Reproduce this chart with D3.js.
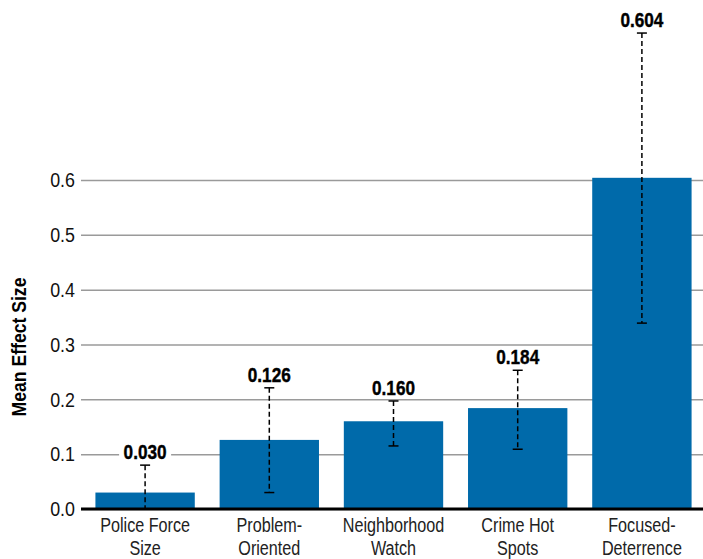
<!DOCTYPE html>
<html>
<head>
<meta charset="utf-8">
<script src="https://cdn.jsdelivr.net/npm/d3@7"></script>
<style>
  body { margin: 0; background: #fff; }
  text { font-family: "Liberation Sans", Arial, sans-serif; }
</style>
</head>
<body>
<div id="chart"></div>
<script>
const categories = [
  ["Police Force", "Size"],
  ["Problem-", "Oriented"],
  ["Neighborhood", "Watch"],
  ["Crime Hot", "Spots"],
  ["Focused-", "Deterrence"]
];
const means = [0.030, 0.126, 0.160, 0.184, 0.604];
const lower = [0.0, 0.030, 0.115, 0.109, 0.339];
const upper = [0.080, 0.221, 0.197, 0.253, 0.868];
const yTicks = [0, 0.1, 0.2, 0.3, 0.4, 0.5, 0.6];

const data = categories.map((c, i) => ({
  name: c.join(" "),
  lines: c,
  mean: means[i],
  lo: lower[i],
  hi: upper[i]
}));

const width = 703, height = 559;
const svg = d3.select("#chart").append("svg")
  .attr("width", width)
  .attr("height", height);

// y scale: 0 at the axis line, 0.6 at the top gridline
const y = d3.scaleLinear().domain([0, 0.6]).range([509, 180]);

const x = d3.scaleBand()
  .domain(data.map(d => d.name))
  .range([83, 704])
  .paddingInner(0.2)
  .paddingOuter(0.1);

// gridlines + tick labels (squeezed horizontally to mimic a condensed face)
const yAxis = svg.append("g")
  .attr("transform", "translate(81,0)")
  .call(d3.axisLeft(y).tickValues(yTicks).tickFormat(d3.format(".1f")).tickSize(-(width - 81)));
yAxis.select(".domain").remove();
yAxis.selectAll(".tick line").attr("stroke", "#9a9a9a").attr("stroke-width", 1.5);
yAxis.selectAll(".tick text")
  .attr("x", 0)
  .attr("transform", "translate(-6,0) scale(0.85,1)")
  .attr("font-size", "21px")
  .attr("fill", "#111")
  .style("font-family", "'Liberation Sans', Arial, sans-serif");

// bars
svg.append("g")
  .selectAll("rect")
  .data(data)
  .join("rect")
  .attr("x", d => x(d.name))
  .attr("y", d => y(d.mean))
  .attr("width", x.bandwidth())
  .attr("height", d => y(0) - y(d.mean))
  .attr("fill", "#006aaa");

// baseline
svg.append("line")
  .attr("x1", 81).attr("x2", width)
  .attr("y1", y(0)).attr("y2", y(0))
  .attr("stroke", "#000").attr("stroke-width", 3);

// error bars
const err = svg.append("g").attr("stroke", "#000").attr("stroke-width", 1.5);
const cx = d => x(d.name) + x.bandwidth() / 2;
err.selectAll("line.stem")
  .data(data)
  .join("line")
  .attr("class", "stem")
  .attr("x1", cx).attr("x2", cx)
  .attr("y1", d => y(d.hi)).attr("y2", d => y(d.lo))
  .attr("stroke-dasharray", "5,3");
err.selectAll("line.capHi")
  .data(data)
  .join("line")
  .attr("class", "capHi")
  .attr("x1", d => cx(d) - 5).attr("x2", d => cx(d) + 5)
  .attr("y1", d => y(d.hi)).attr("y2", d => y(d.hi));
err.selectAll("line.capLo")
  .data(data.filter(d => d.lo > 0))
  .join("line")
  .attr("class", "capLo")
  .attr("x1", d => cx(d) - 5).attr("x2", d => cx(d) + 5)
  .attr("y1", d => y(d.lo)).attr("y2", d => y(d.lo));

// value labels with white knockout behind
const labels = svg.append("g")
  .selectAll("g")
  .data(data)
  .join("g")
  .attr("transform", d => `translate(${cx(d)}, ${y(d.hi) - 6})`);
labels.append("rect")
  .attr("x", -26).attr("y", -16)
  .attr("width", 52).attr("height", 18)
  .attr("fill", "#fff");
labels.append("text")
  .attr("transform", "scale(0.86,1)")
  .attr("text-anchor", "middle")
  .attr("font-size", "20px")
  .attr("font-weight", "bold")
  .attr("stroke", "#000")
  .attr("stroke-width", 0.4)
  .attr("fill", "#000")
  .text(d => d3.format(".3f")(d.mean));

// category labels
const xl = svg.append("g")
  .selectAll("text")
  .data(data)
  .join("text")
  .attr("transform", d => `translate(${cx(d)}, 532) scale(0.77,1)`)
  .attr("text-anchor", "middle")
  .attr("font-size", "21px")
  .attr("fill", "#222");
xl.selectAll("tspan")
  .data(d => d.lines)
  .join("tspan")
  .attr("x", 0)
  .attr("dy", (d, i) => i === 0 ? 0 : 23)
  .text(d => d);

// y axis title
svg.append("text")
  .attr("transform", "translate(26, 347) rotate(-90) scale(0.88,1)")
  .attr("text-anchor", "middle")
  .attr("font-size", "20px")
  .attr("font-weight", "bold")
  .attr("fill", "#000")
  .text("Mean Effect Size");
</script>
</body>
</html>
